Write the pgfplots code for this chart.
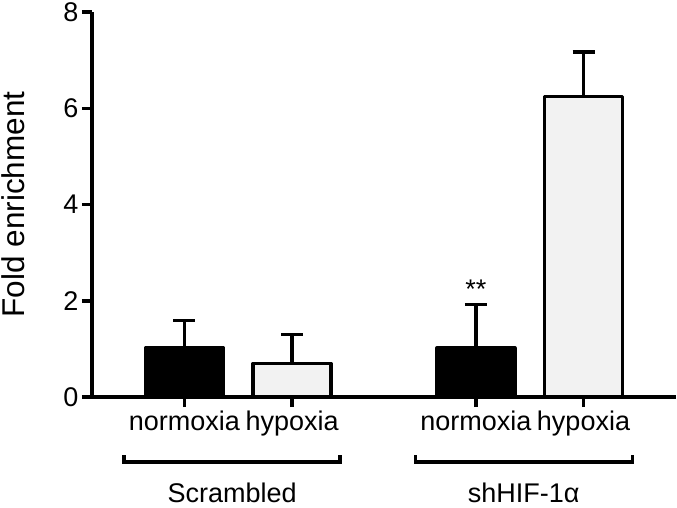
\documentclass[border=0pt]{standalone}
\usepackage{fontspec}
\setmainfont{Liberation Sans}
\usepackage{pgfplots}
\pgfplotsset{compat=1.18}
\definecolor{hypfill}{HTML}{F2F2F2}
\newcommand\lab{\fontsize{27bp}{30bp}\selectfont}
\begin{document}
\begin{tikzpicture}
\path[use as bounding box] (-92bp,-111bp) rectangle (585bp,397bp);
\begin{axis}[
    at={(0,0)}, anchor=south west,
    scale only axis, width=584bp, height=385bp,
    xmin=0.14, xmax=5.57, ymin=0, ymax=8,
    axis x line=bottom, axis y line=left,
    axis line style={line width=4.5bp, -},
    clip=false,
    xtick={1,2,3.71,4.71},
    xticklabels={normoxia,hypoxia,normoxia,hypoxia},
    ytick={0,2,4,6,8},
    tick align=outside, major tick length=10bp,
    tick style={line width=3.5bp, black},
    /pgf/number format/assume math mode=true,
    tick label style={font=\lab},
    yticklabel style={inner ysep=0pt},
    ylabel={Fold enrichment},
    ylabel style={font=\fontsize{31.5bp}{36bp}\selectfont,
        at={(axis description cs:-0.1344,0.5)}, anchor=center},
    error bars/y dir=plus, error bars/y explicit,
    error bars/error bar style={line width=3.3bp, black},
    error bars/error mark=|,
    error bars/error mark options={line width=3.3bp, mark size=11bp, black},
]
% normoxia
\addplot[ybar, bar width=78bp, bar shift=0pt, fill=black, draw=black,
    line width=3.2bp, line join=round]
    coordinates {(1,1.02) +- (0,0.57) (3.71,1.02) +- (0,0.90)};
% hypoxia
\addplot[ybar, bar width=78bp, bar shift=0pt, fill=hypfill, draw=black,
    line width=3.2bp, line join=round]
    coordinates {(2,0.70) +- (0,0.60) (4.71,6.24) +- (0,0.93)};

\node[font=\lab] at (axis cs:3.71,2.23) {**};

% group brackets
\draw[line width=3.3bp] ([yshift=-58bp]axis cs:0.438,0) -- ([yshift=-65bp]axis cs:0.438,0)
    -- ([yshift=-65bp]axis cs:2.447,0) -- ([yshift=-58bp]axis cs:2.447,0);
\draw[line width=3.3bp] ([yshift=-58bp]axis cs:3.145,0) -- ([yshift=-65bp]axis cs:3.145,0)
    -- ([yshift=-65bp]axis cs:5.163,0) -- ([yshift=-58bp]axis cs:5.163,0);
\node[font=\lab, anchor=base, inner sep=0pt] at ([yshift=-105.5bp]axis cs:1.4425,0) {Scrambled};
\node[font=\lab, anchor=base, inner sep=0pt] at ([yshift=-105.5bp]axis cs:4.154,0) {shHIF-1α};
\end{axis}
\end{tikzpicture}
\end{document}
